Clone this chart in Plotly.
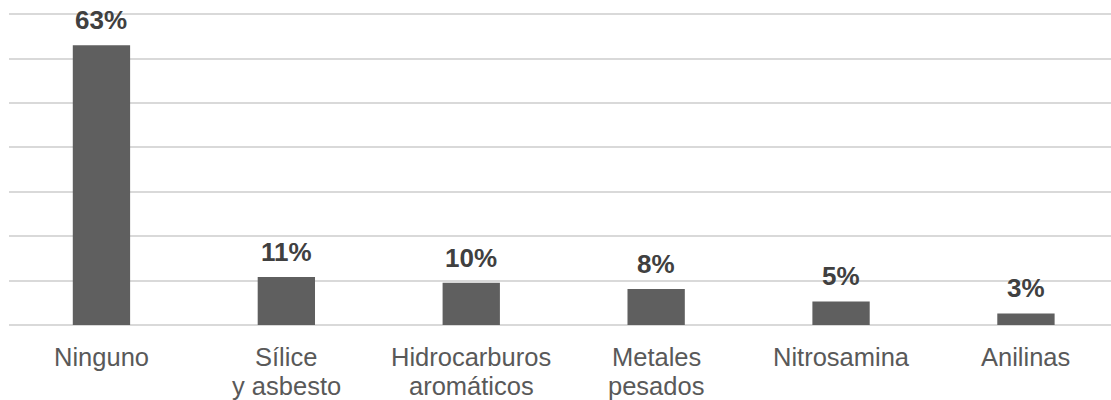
import plotly.graph_objects as go

categories = ["Ninguno", "Sílice\ny asbesto", "Hidrocarburos\naromáticos",
              "Metales\npesados", "Nitrosamina", "Anilinas"]
values = [63, 10.8, 9.5, 8.1, 5.3, 2.6]
value_labels = ["63%", "11%", "10%", "8%", "5%", "3%"]
y_ticks = [0, 10, 20, 30, 40, 50, 60, 70]

FONT = "Liberation Sans, Arial, sans-serif"

fig = go.Figure()
fig.add_trace(go.Bar(
    x=list(range(len(categories))), y=values,
    width=0.31,
    marker=dict(color="#5f5f5f", line=dict(width=0)),
    hoverinfo="skip",
))

for i, (v, t) in enumerate(zip(values, value_labels)):
    fig.add_annotation(
        x=i, y=v, text="<b>" + t + "</b>", showarrow=False,
        yanchor="bottom", yshift=8,
        font=dict(family=FONT, size=26, color="#404040"),
    )

# category labels (tight line spacing like the reference)
for i, cat in enumerate(categories):
    for k, line in enumerate(cat.split("\n")):
        fig.add_annotation(
            x=i, y=0, text=line, showarrow=False,
            yanchor="top", yshift=-16 - 28.5 * k,
            font=dict(family=FONT, size=25.5, color="#595959"),
        )

fig.update_layout(
    width=1111, height=400,
    margin=dict(l=9, r=0, t=13, b=75, autoexpand=False),
    paper_bgcolor="white", plot_bgcolor="white",
    showlegend=False,
    font=dict(family=FONT),
    xaxis=dict(
        range=[-0.5, 5.46], automargin=False,
        showticklabels=False,
        showgrid=False, zeroline=False, showline=False, ticks="",
    ),
    yaxis=dict(
        range=[0, 70.25], tickvals=y_ticks, showticklabels=False, automargin=False,
        showgrid=True, gridcolor="#d9d9d9", gridwidth=2,
        zeroline=True, zerolinecolor="#d9d9d9", zerolinewidth=2,
        showline=False,
    ),
)

fig.write_html("out.html")
